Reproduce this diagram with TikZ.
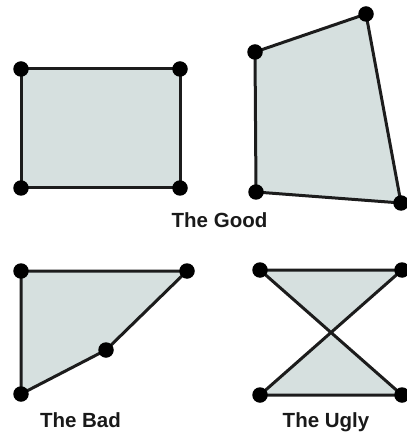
\documentclass[tikz,border=0pt]{standalone}
\usepackage{fontspec}
\setmainfont{Liberation Sans}
\definecolor{shapefill}{HTML}{D6E0DF}
\definecolor{edgecol}{HTML}{1C1C1C}
\tikzset{
  poly/.style={draw=edgecol, fill=shapefill, line width=3bp, line join=round},
  vdot/.style={circle, fill=black, inner sep=0pt, minimum size=15.5bp},
  caption/.style={anchor=base, inner sep=0pt, font=\fontsize{20.5bp}{24bp}\selectfont\bfseries, text=black!90}
}
\begin{document}
\begin{tikzpicture}[x=1bp,y=-1bp]
\useasboundingbox (0,0) rectangle (406,434);
% The Good: rectangle
\coordinate (r1) at (21,69);
\coordinate (r2) at (180,69);
\coordinate (r3) at (180,188);
\coordinate (r4) at (21,188);
\draw[poly] (r1) -- (r2) -- (r3) -- (r4) -- cycle;
\foreach \p in {r1,r2,r3,r4} \node[vdot] (d\p) at (\p) {};
% The Good: quadrilateral
\coordinate (q1) at (255,52);
\coordinate (q2) at (366,14);
\coordinate (q3) at (401,203);
\coordinate (q4) at (256,192);
\draw[poly] (q1) -- (q2) -- (q3) -- (q4) -- cycle;
\foreach \p in {q1,q2,q3,q4} \node[vdot] (d\p) at (\p) {};
\node[caption] (good) at (219.5,227.5) {The Good};
% The Bad
\coordinate (b1) at (21,271);
\coordinate (b2) at (187,271);
\coordinate (b3) at (106,350);
\coordinate (b4) at (21,394);
\draw[poly] (b1) -- (b2) -- (b3) -- (b4) -- cycle;
\foreach \p in {b1,b2,b3,b4} \node[vdot] (d\p) at (\p) {};
\node[caption] (bad) at (80.5,427) {The Bad};
% The Ugly
\coordinate (u1) at (260,270);
\coordinate (u2) at (402,270);
\coordinate (u3) at (260,395);
\coordinate (u4) at (402,395);
\draw[poly] (u1) -- (u2) -- (u3) -- (u4) -- cycle;
\foreach \p in {u1,u2,u3,u4} \node[vdot] (d\p) at (\p) {};
\node[caption] (ugly) at (326,427) {The Ugly};
\end{tikzpicture}
\end{document}
